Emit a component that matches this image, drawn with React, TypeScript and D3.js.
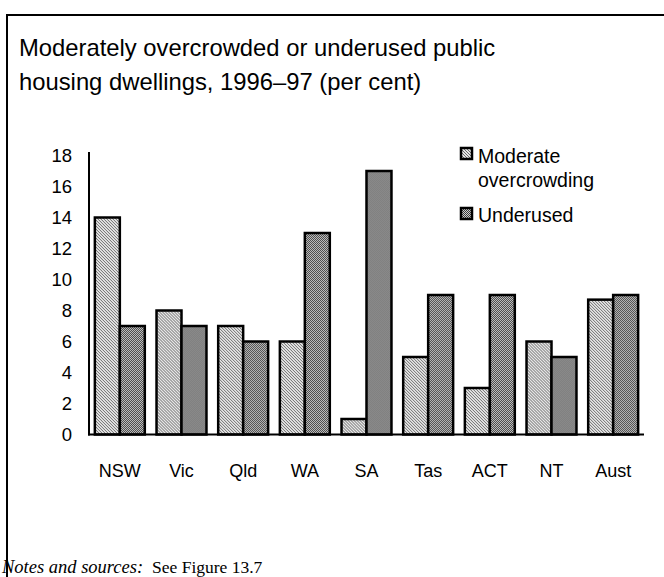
import React from "react";
import * as d3 from "d3";

const categories = ["NSW", "Vic", "Qld", "WA", "SA", "Tas", "ACT", "NT", "Aust"];
const moderateOvercrowding = [14, 8, 7, 6, 1, 5, 3, 6, 8.7];
const underused = [7, 7, 6, 13, 17, 9, 9, 5, 9];
const yTicks = [0, 2, 4, 6, 8, 10, 12, 14, 16, 18];
const legendLines = [["Moderate", "overcrowding"], ["Underused"]];

const W = 664;
const H = 577;
const left = 89;
const right = 644;
const top = 155.5;
const bottom = 434.5;

export default function App() {
  const x0 = d3.scaleBand<string>().domain(categories).range([left, right]).paddingInner(0.19).paddingOuter(0.095);
  const x1 = d3.scaleBand<string>().domain(["m", "u"]).range([0, x0.bandwidth()]);
  const y = d3.scaleLinear().domain([0, 18]).range([bottom, top]);
  const font = "'Liberation Sans', Arial, sans-serif";

  return (
    <svg width={W} height={H} style={{ position: "absolute", left: 0, top: 0, background: "#fff" }}>
      <defs>
        <pattern id="hatch" width="3" height="3" patternUnits="userSpaceOnUse">
          <rect width="3" height="3" fill="#e6e6e6" />
          <rect x="0" y="0" width="1" height="1" fill="#6a6a6a" />
          <rect x="1" y="1" width="1" height="1" fill="#6a6a6a" />
          <rect x="2" y="2" width="1" height="1" fill="#6a6a6a" />
        </pattern>
        <pattern id="check" width="2" height="2" patternUnits="userSpaceOnUse">
          <rect width="2" height="2" fill="#d0d0d0" />
          <rect x="0" y="0" width="1" height="1" fill="#3a3a3a" />
          <rect x="1" y="1" width="1" height="1" fill="#3a3a3a" />
        </pattern>
      </defs>
      <line x1={6} x2={W} y1={15} y2={15} stroke="#000" strokeWidth={2} />
      <line x1={7} x2={7} y1={14} y2={H} stroke="#000" strokeWidth={2} />

      <text x={19} y={56} fontFamily={font} fontSize={23.8} fill="#000">
        Moderately overcrowded or underused public
      </text>
      <text x={19} y={90} fontFamily={font} fontSize={23.8} fill="#000">
        housing dwellings, 1996–97 (per cent)
      </text>

      {yTicks.map((t) => (
        <text key={t} x={72} y={y(t)} dy="0.36em" textAnchor="end" fontFamily={font} fontSize={18.5} fill="#000">
          {t}
        </text>
      ))}

      {categories.map((c, i) => (
        <g key={c} transform={`translate(${x0(c)},0)`}>
          <rect x={x1("m")} y={y(moderateOvercrowding[i])} width={x1.bandwidth()} height={y(0) - y(moderateOvercrowding[i])} fill="url(#hatch)" stroke="#000" strokeWidth={2.5} />
          <rect x={x1("u")} y={y(underused[i])} width={x1.bandwidth()} height={y(0) - y(underused[i])} fill="url(#check)" stroke="#000" strokeWidth={2.5} />
        </g>
      ))}

      <line x1={left} x2={left} y1={152} y2={bottom + 1} stroke="#000" strokeWidth={2} />
      <line x1={left - 1} x2={right} y1={bottom} y2={bottom} stroke="#000" strokeWidth={2} />

      {categories.map((c) => (
        <text key={c} x={(x0(c) ?? 0) + x0.bandwidth() / 2} y={477} textAnchor="middle" fontFamily={font} fontSize={18} fill="#000">
          {c}
        </text>
      ))}

      <rect x={461} y={148} width={11} height={11} fill="url(#hatch)" stroke="#000" strokeWidth={2.5} />
      <text x={478} y={163} fontFamily={font} fontSize={19.5} fill="#000">{legendLines[0][0]}</text>
      <text x={478} y={187} fontFamily={font} fontSize={19.5} fill="#000">{legendLines[0][1]}</text>
      <rect x={461} y={208} width={11} height={11} fill="url(#check)" stroke="#000" strokeWidth={2.5} />
      <text x={478} y={222} fontFamily={font} fontSize={19.5} fill="#000">{legendLines[1][0]}</text>

      <text x={2} y={573} fontFamily="'Liberation Serif', 'Times New Roman', serif" fontSize={18.5} fill="#000">
        <tspan fontStyle="italic">Notes and sources:</tspan>
      </text>
      <text x={152} y={573} fontFamily="'Liberation Serif', 'Times New Roman', serif" fontSize={17.5} fill="#000">
        See Figure 13.7
      </text>
    </svg>
  );
}
